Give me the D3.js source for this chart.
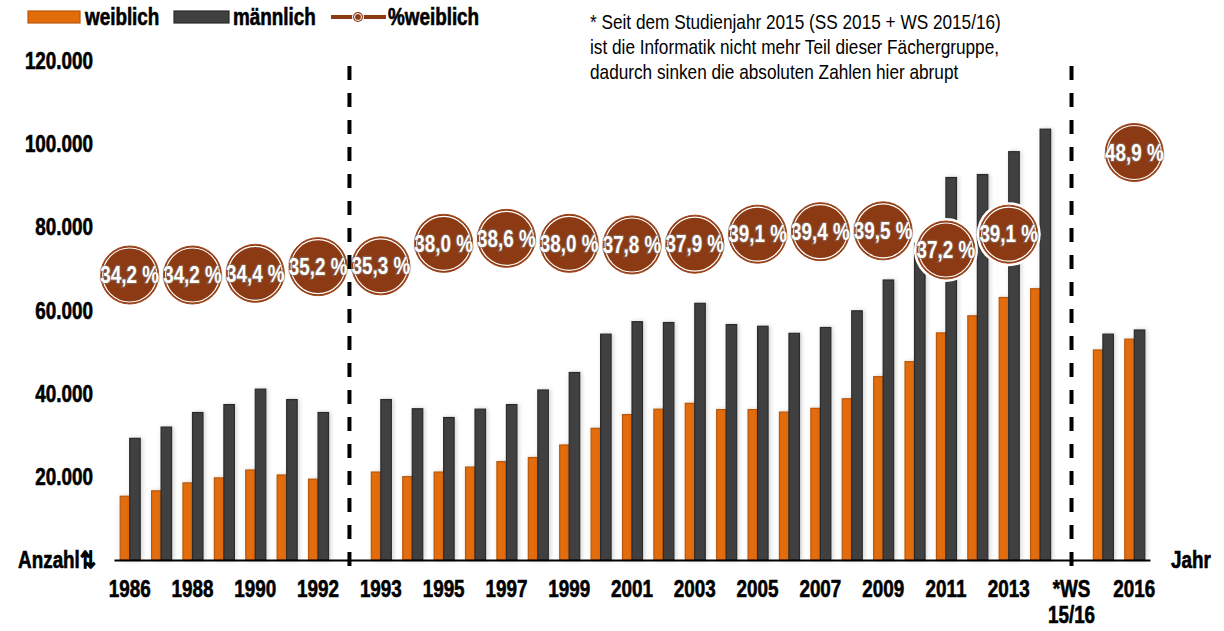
<!DOCTYPE html>
<html>
<head>
<meta charset="utf-8">
<script src="https://cdn.jsdelivr.net/npm/d3@7"></script>
<style>
  body { margin: 0; background: #fff; }
  svg { display: block; font-family: "Liberation Sans", Arial, sans-serif; }
  .bold { font-weight: bold; }
  .heavy { stroke: #000; stroke-width: 0.6px; }
</style>
</head>
<body>
<div id="chart-area"></div>
<script>
// categories (empty slots hold the dashed separators)
const categories = ["1986","1987","1988","1989","1990","1991","1992","",
  "1993","1994","1995","1996","1997","1998","1999","2000","2001","2002","2003",
  "2004","2005","2006","2007","2008","2009","2010","2011","2012","2013","2014",
  "*WS 15/16","2015","2016"]

const weiblich = [15300,16600,18500,19700,21600,20400,19400,null,
  21100,20000,21100,22300,23600,24600,27600,31600,34900,36200,37600,
  36100,36100,35500,36400,38700,44000,47600,54500,58600,63000,65100,
  null,50400,53000]

const maennlich = [29200,31900,35400,37300,41000,38500,35400,null,
  38500,36300,34200,36200,37300,40800,45000,54200,57200,57000,61600,
  56500,56100,54400,55800,59800,67200,76000,91800,92500,98000,103400,
  null,54200,55200]

// % weiblich, only the labelled points
const pctWeiblich = [34.2,null,34.2,null,34.4,null,35.2,null,
  35.3,null,38.0,null,38.6,null,38.0,null,37.8,null,37.9,
  null,39.1,null,39.4,null,39.5,null,37.2,null,39.1,null,
  null,null,48.9]

const yTicks = [20000, 40000, 60000, 80000, 100000, 120000]
const separators = ["", "*WS 15/16"]

const noteLines = ["* Seit dem Studienjahr 2015 (SS 2015 + WS 2015/16)",
  "ist die Informatik nicht mehr Teil dieser Fächergruppe,",
  "dadurch sinken die absoluten Zahlen hier abrupt"]

const W = 1224, H = 631
const orange = "#e36c0a", orangeDark = "#b9570a"
const grey = "#404040", greyDark = "#2b2b2b"
const brown = "#8b3a13"
const squeeze = 0.82   // Arial Narrow look from Liberation Sans

// move x/y into a transform and squeeze horizontally
function narrow(sel) {
  sel.each(function() {
    const t = d3.select(this)
    const tx = +t.attr("x") || 0, ty = +t.attr("y") || 0
    t.attr("x", 0).attr("y", 0)
      .attr("transform", "translate(" + tx + "," + ty + ") scale(" + squeeze + ",1)")
  })
}

const svg = d3.select("#chart-area").append("svg")
  .attr("width", W)
  .attr("height", H)

const defs = svg.append("defs")
const shadow = defs.append("filter").attr("id", "shadow")
  .attr("x", "-50%").attr("y", "-10%").attr("width", "200%").attr("height", "120%")
shadow.append("feDropShadow").attr("dx", 1.5).attr("dy", 0).attr("stdDeviation", 2)
  .attr("flood-color", "#000").attr("flood-opacity", 0.18)

const x = d3.scaleBand().domain(categories).range([114, 1150])
const y = d3.scaleLinear().domain([0, 120000]).range([560, 60])
const yPct = d3.scaleLinear().domain([0, 60]).range([560, 60])

const de = d3.formatLocale({ decimal: ",", thousands: ".", grouping: [3], currency: ["", "€"] })
const fmtNum = de.format(",.0f")
const fmtPct = de.format(".1f")

// bars
const rows = categories.map((c, i) => ({ c: c, w: weiblich[i], m: maennlich[i], p: pctWeiblich[i] }))
const mid = d => x(d.c) + x.bandwidth() / 2

svg.append("g").selectAll("rect")
  .data(rows.filter(d => d.w != null))
  .enter().append("rect")
    .attr("x", d => mid(d) - 9.5)
    .attr("y", d => y(d.w))
    .attr("width", 9.5)
    .attr("height", d => y(0) - y(d.w))
    .attr("fill", orange)
    .attr("stroke", orangeDark)
    .attr("stroke-width", 1.2)
    .attr("filter", "url(#shadow)")

svg.append("g").selectAll("rect")
  .data(rows.filter(d => d.m != null))
  .enter().append("rect")
    .attr("x", d => mid(d))
    .attr("y", d => y(d.m))
    .attr("width", 10.5)
    .attr("height", d => y(0) - y(d.m))
    .attr("fill", grey)
    .attr("stroke", greyDark)
    .attr("stroke-width", 1.2)
    .attr("filter", "url(#shadow)")

// axes
const yAxis = svg.append("g")
  .attr("transform", "translate(96,0)")
  .call(d3.axisLeft(y).tickValues(yTicks).tickFormat(fmtNum).tickSize(0))
yAxis.select(".domain").remove()
yAxis.selectAll("text")
  .attr("class", "bold heavy")
  .attr("font-family", null)
  .attr("font-size", 23)
  .attr("fill", "#000")
  .attr("dy", "0.36em")
  .call(narrow)

const xAxis = svg.append("g")
  .attr("transform", "translate(0,560)")
  .call(d3.axisBottom(x).tickSize(0).tickSizeOuter(0).tickFormat(""))
xAxis.select(".domain").attr("stroke", "#000").attr("stroke-width", 2)

const xLabels = xAxis.selectAll(".tick text")
  .attr("class", "bold heavy")
  .attr("font-family", null)
  .attr("font-size", 23)
  .attr("fill", "#000")
  .attr("y", 37)
  .attr("dy", 0)
  .text(null)
xLabels.each(function(d) {
  const i = categories.indexOf(d)
  if (i % 2 !== 0) return
  const parts = d.split(" ")
  d3.select(this).selectAll("tspan").data(parts).enter().append("tspan")
    .attr("x", 0)
    .attr("dy", (p, j) => j === 0 ? 0 : 26)
    .text(p => p)
})
xLabels.call(narrow)

svg.append("text").attr("class", "bold heavy")
  .attr("x", 96).attr("y", 568).attr("text-anchor", "end")
  .attr("font-size", 23).text("Anzahl⇅")
  .call(narrow)
svg.append("text").attr("class", "bold heavy")
  .attr("x", 1171).attr("y", 568)
  .attr("font-size", 23).text("Jahr")
  .call(narrow)

// % weiblich markers
const pts = rows.filter(d => d.p != null)
const mk = svg.append("g").selectAll("g")
  .data(pts)
  .enter().append("g")
    .attr("transform", d => "translate(" + mid(d) + "," + yPct(d.p) + ")")
mk.append("circle").attr("r", 32).attr("fill", "#fff")
mk.append("circle").attr("r", 29).attr("fill", brown).attr("stroke", "#a4461a").attr("stroke-width", 1)
mk.append("circle").attr("r", 27).attr("fill", "none").attr("stroke", "#fff").attr("stroke-width", 1.2)
mk.append("text")
  .attr("class", "bold")
  .attr("text-anchor", "middle")
  .attr("dy", "0.36em")
  .attr("font-size", 23)
  .attr("fill", "#fff")
  .attr("stroke", "rgba(130,130,130,0.5)")
  .attr("stroke-width", 2.5)
  .attr("paint-order", "stroke")
  .text(d => fmtPct(d.p) + " %")
  .call(narrow)

// dashed separators, drawn over the markers
svg.append("g").selectAll("line")
  .data(separators)
  .enter().append("line")
    .attr("x1", d => x(d) + x.bandwidth() / 2)
    .attr("x2", d => x(d) + x.bandwidth() / 2)
    .attr("y1", 66)
    .attr("y2", 566)
    .attr("stroke", "#000")
    .attr("stroke-width", 4)
    .attr("stroke-dasharray", "14,13")

// legend
const legend = svg.append("g")
legend.append("rect").attr("x", 28).attr("y", 11).attr("width", 52).attr("height", 12)
  .attr("fill", orange).attr("stroke", orangeDark).attr("stroke-width", 1.2)
legend.append("text").attr("class", "bold heavy").attr("x", 85).attr("y", 25)
  .attr("font-size", 23).text("weiblich").call(narrow)
legend.append("rect").attr("x", 174).attr("y", 11).attr("width", 55).attr("height", 12)
  .attr("fill", grey).attr("stroke", greyDark).attr("stroke-width", 1.2)
legend.append("text").attr("class", "bold heavy").attr("x", 233).attr("y", 25)
  .attr("font-size", 23).text("männlich").call(narrow)
legend.append("line").attr("x1", 331).attr("x2", 386).attr("y1", 17).attr("y2", 17)
  .attr("stroke", brown).attr("stroke-width", 4)
legend.append("circle").attr("cx", 358).attr("cy", 17).attr("r", 6)
  .attr("fill", "#fff")
legend.append("circle").attr("cx", 358).attr("cy", 17).attr("r", 5)
  .attr("fill", brown)
legend.append("circle").attr("cx", 358).attr("cy", 17).attr("r", 3.5)
  .attr("fill", "none").attr("stroke", "#fff").attr("stroke-width", 1)
legend.append("text").attr("class", "bold heavy").attr("x", 388).attr("y", 25)
  .attr("font-size", 23).text("%weiblich").call(narrow)

// note
svg.append("g").selectAll("text")
  .data(noteLines)
  .enter().append("text")
    .attr("x", 590)
    .attr("y", (d, i) => 29 + i * 25)
    .attr("font-size", 21)
    .text(d => d)
    .call(narrow)
</script>
</body>
</html>
